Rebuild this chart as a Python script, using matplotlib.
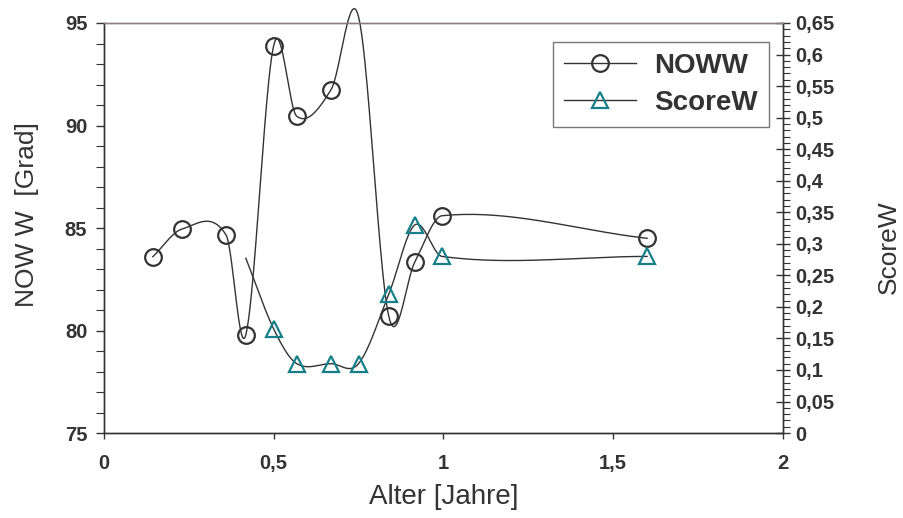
import numpy as np
import matplotlib
matplotlib.use('Agg')
from matplotlib import pyplot as plt
from matplotlib.ticker import MultipleLocator, FuncFormatter

plt.rcParams['font.family'] = ['Liberation Sans', 'DejaVu Sans']

# datos leidos del grafico
# el punto 0,75 de NOWW queda por encima de 95: la curva pasa, el marcador no se ve
alter_noww = [0.144, 0.23, 0.36, 0.418, 0.50, 0.568, 0.669, 0.75, 0.839, 0.916, 0.996, 1.60]
noww = [83.6, 84.95, 84.65, 79.8, 93.9, 90.45, 91.75, 95.3, 80.7, 83.35, 85.6, 84.5]

# el primer punto de ScoreW no tiene marcador en el original
alter_score = [0.418, 0.50, 0.568, 0.669, 0.75, 0.839, 0.916, 0.996, 1.60]
scorew = [0.277, 0.165, 0.11, 0.11, 0.11, 0.22, 0.33, 0.28, 0.28]

x_ticks = [0, 0.5, 1, 1.5, 2]

gris = '#333333'
turquesa = '#157f8a'


def curva_suave(x, y, n=40):
    # hermite cubico con tangentes por diferencias (tipo catmull-rom)
    x = np.asarray(x, float)
    y = np.asarray(y, float)
    m = np.empty_like(y)
    m[1:-1] = (y[2:] - y[:-2]) / (x[2:] - x[:-2])
    m[0] = (y[1] - y[0]) / (x[1] - x[0])
    m[-1] = (y[-1] - y[-2]) / (x[-1] - x[-2])
    xs, ys = [], []
    for i in range(len(x) - 1):
        h = x[i + 1] - x[i]
        t = np.linspace(0, 1, n)
        h00 = 2 * t**3 - 3 * t**2 + 1
        h10 = t**3 - 2 * t**2 + t
        h01 = -2 * t**3 + 3 * t**2
        h11 = t**3 - t**2
        xs.append(x[i] + t * h)
        ys.append(h00 * y[i] + h10 * h * m[i] + h01 * y[i + 1] + h11 * h * m[i + 1])
    return np.concatenate(xs), np.concatenate(ys)


def coma(v, pos):
    return f'{v:g}'.replace('.', ',')


fig = plt.figure(figsize=(9.04, 5.18), dpi=100)
ax = fig.add_axes([0.115, 0.164, 0.751, 0.7916])
ax2 = ax.twinx()

ax.set_xlim(0, 2)
ax.set_ylim(75, 95)
ax2.set_ylim(0, 0.65)

# NOWW en el eje izquierdo
xs, ys = curva_suave(alter_noww, noww)
ax.plot(xs, ys, color=gris, lw=1.0, clip_on=False)
xa, ya = np.array(alter_noww), np.array(noww)
dentro = (ya >= 75) & (ya <= 95)
ax.plot(xa[dentro], ya[dentro], 'o', ms=12, mfc='none', mec=gris, mew=1.6, clip_on=False)

# ScoreW en el eje derecho
xs2, ys2 = curva_suave(alter_score, scorew)
ax2.plot(xs2, ys2, color=gris, lw=1.0, clip_on=False)
ax2.plot(alter_score[1:], scorew[1:], '^', ms=12, mfc='none', mec=turquesa, mew=1.6, clip_on=False)

ax.set_xticks(x_ticks)
ax.xaxis.set_major_formatter(FuncFormatter(coma))
ax.yaxis.set_major_locator(MultipleLocator(5))
ax.yaxis.set_minor_locator(MultipleLocator(1))
ax2.yaxis.set_major_locator(MultipleLocator(0.05))
ax2.yaxis.set_minor_locator(MultipleLocator(0.01))
ax2.yaxis.set_major_formatter(FuncFormatter(coma))

ax.tick_params(axis='x', direction='out', length=4, width=1, pad=11, labelsize=14.5, colors=gris)
ax.tick_params(axis='y', which='major', direction='out', length=6, width=1, pad=6, labelsize=14.5, colors=gris)
ax.tick_params(axis='y', which='minor', direction='out', length=6, width=0.8, colors=gris)
ax2.tick_params(axis='y', which='major', direction='inout', length=10, width=1, pad=4, labelsize=14.5, colors=gris)
ax2.tick_params(axis='y', which='minor', direction='out', length=5, width=0.8, colors=gris)
for lab in ax.get_xticklabels() + ax.get_yticklabels() + ax2.get_yticklabels():
    lab.set_fontweight('bold')

for a in (ax, ax2):
    for s in a.spines.values():
        s.set_color(gris)
        s.set_linewidth(1.0)
    a.spines['top'].set_color('#8a7f7f')

ax.set_xlabel('Alter [Jahre]', fontsize=20, color=gris, va='center')
ax.xaxis.set_label_coords(0.5, -0.157)
ax.set_ylabel('NOW W  [Grad]', fontsize=19, color=gris, va='center')
ax.yaxis.set_label_coords(-0.113, 0.534)
ax2.set_ylabel('ScoreW', fontsize=19, color=gris, va='center')
ax2.yaxis.set_label_coords(1.156, 0.454)

# leyenda combinada
h1, = ax.plot([], [], '-o', color=gris, lw=1.0, ms=12, mfc='none', mec=gris, mew=1.6)
h2, = ax.plot([], [], '-^', color=gris, lw=1.0, ms=12, mfc='none', mec=turquesa, mew=1.6)
leg = ax.legend([h1, h2], ['NOWW', 'ScoreW'], loc='upper left',
                bbox_to_anchor=(0.661, 0.954), prop={'weight': 'bold', 'size': 20},
                frameon=True, fancybox=False, handlelength=2.6, handletextpad=0.65,
                borderpad=0.4, labelspacing=0.4, borderaxespad=0)
leg.get_frame().set_edgecolor('#555555')
leg.get_frame().set_linewidth(1.0)
for t in leg.get_texts():
    t.set_color(gris)

fig.savefig('out.png', dpi=100)
